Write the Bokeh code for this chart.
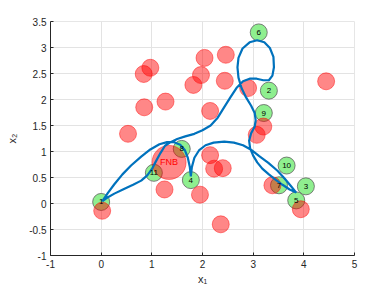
from bokeh.plotting import figure
from bokeh.models import FixedTicker
from bokeh.core.properties import value
from bokeh.embed import file_html
from bokeh.resources import INLINE

# ---- data ----
red_x = [0.84, 0.97, 0.85, 1.27, 1.82, 1.97, 2.04, 2.46, 2.44, 2.15, 2.90, 4.44,
         0.53, 3.20, 3.07, 1.25, 0.02, 1.95, 2.15, 2.23, 2.40, 2.36, 3.38, 3.94]
red_y = [2.49, 2.61, 1.85, 1.96, 2.28, 2.47, 2.80, 2.86, 2.36, 1.78, 2.22, 2.35,
         1.34, 1.48, 1.32, 0.27, -0.14, 0.17, 0.93, 0.67, 0.68, -0.40, 0.35, -0.11]

fnb_x = [1.34]
fnb_y = [0.79]
fnb_label = ["FNB"]

node_x = [0.00, 3.31, 4.04, 1.77, 3.85, 3.11, 3.51, 1.59, 3.21, 3.66, 1.04]
node_y = [0.03, 2.17, 0.33, 0.45, 0.06, 3.29, 0.35, 1.05, 1.74, 0.73, 0.59]
node_labels = ["1", "2", "3", "4", "5", "6", "7", "8", "9", "10", "11"]

path_x = [0.02, 0.13, 0.26, 0.42, 0.59, 0.79, 0.97, 1.15, 1.30, 1.44, 1.56, 1.65,
          1.71, 1.75, 1.77, 1.79, 1.84, 1.93, 2.06, 2.22, 2.43, 2.62, 2.80, 2.95,
          3.12, 3.30, 3.48, 3.62, 3.74, 3.85, 3.72, 3.58, 3.44, 3.31, 3.18, 3.08,
          3.00, 2.94, 2.92, 2.96, 3.03, 3.05, 3.03, 2.96, 2.86, 2.77, 2.71, 2.69,
          2.71, 2.79, 2.93, 3.08, 3.22, 3.33, 3.40, 3.41, 3.38, 3.31, 3.20, 3.07,
          2.93, 2.80, 2.67, 2.55, 2.42, 2.30, 2.16, 2.00, 1.84, 1.66, 1.50, 1.37,
          1.26, 1.17, 1.08, 1.00, 0.91, 0.79, 0.63, 0.45, 0.26, 0.10, 0.02]
path_y = [0.04, 0.20, 0.37, 0.56, 0.73, 0.90, 1.04, 1.14, 1.18, 1.18, 1.13, 1.03,
          0.88, 0.70, 0.52, 0.70, 0.88, 1.02, 1.12, 1.17, 1.19, 1.17, 1.12, 1.04,
          0.91, 0.78, 0.63, 0.48, 0.34, 0.21, 0.27, 0.36, 0.46, 0.56, 0.67, 0.79,
          0.92, 1.06, 1.21, 1.35, 1.48, 1.60, 1.74, 1.88, 2.04, 2.22, 2.42, 2.62,
          2.80, 2.98, 3.10, 3.14, 3.10, 2.99, 2.82, 2.62, 2.46, 2.37, 2.37, 2.40,
          2.40, 2.35, 2.22, 2.04, 1.84, 1.65, 1.50, 1.41, 1.34, 1.29, 1.24, 1.18,
          1.11, 0.97, 0.81, 0.66, 0.54, 0.44, 0.36, 0.28, 0.19, 0.10, 0.04]

x_ticks = [-1, 0, 1, 2, 3, 4, 5]
y_ticks = [-1, -0.5, 0, 0.5, 1, 1.5, 2, 2.5, 3, 3.5]
y_tick_labels = ["-1", "-0.5", "0", "0.5", "1", "1.5", "2", "2.5", "3", "3.5"]
x_tick_labels = ["-1", "0", "1", "2", "3", "4", "5"]

# ---- figure ----
FONT = "Liberation Sans"
p = figure(width=389, height=288, x_range=(-1, 5), y_range=(-1, 3.5),
           output_backend="svg", toolbar_location=None,
           min_border_left=50, min_border_right=35, min_border_top=21,
           min_border_bottom=33)
p.background_fill_color = "white"
p.outline_line_color = "#e6e6e6"

for ax, ticks, labels in ((p.xaxis[0], x_ticks, x_tick_labels),
                          (p.yaxis[0], y_ticks, y_tick_labels)):
    ax.ticker = FixedTicker(ticks=ticks)
    ax.major_label_overrides = {t: l for t, l in zip(ticks, labels)}
    ax.minor_tick_line_color = None
    ax.major_tick_in = 3
    ax.major_tick_out = 0
    ax.axis_line_color = "#262626"
    ax.major_tick_line_color = "#262626"
    ax.major_label_text_font = FONT
    ax.major_label_text_font_size = "10px"
    ax.major_label_text_color = "#262626"
    ax.axis_label_text_font = FONT
    ax.axis_label_text_font_size = "11px"
    ax.axis_label_text_font_style = "normal"
    ax.axis_label_text_color = "#262626"

p.xaxis.axis_label = "x₁"
p.yaxis.axis_label = "x₂"
p.xaxis.major_label_standoff = 4
p.xaxis.axis_label_standoff = 2
p.yaxis.major_label_standoff = 4
p.yaxis.axis_label_standoff = 8

p.grid.grid_line_color = "#e3e3e3"
p.grid.grid_line_width = 1

# green nodes
p.scatter(node_x, node_y, size=17, fill_color="#8FEF8F", line_color="#606060",
          line_width=0.8)
# red obstacles
p.scatter(red_x, red_y, size=17, fill_color="red", fill_alpha=0.47,
          line_color="red", line_alpha=0.45, line_width=1)
p.scatter(fnb_x, fnb_y, size=34, fill_color="red", fill_alpha=0.47,
          line_color="red", line_alpha=0.45, line_width=1)
# path
p.line(path_x, path_y, line_color="#0072BD", line_width=2.2)

# labels
p.text(node_x, node_y, text=node_labels, text_align="center",
       text_baseline="middle", text_font=value(FONT), text_font_size="8px",
       text_color="black")
p.text(fnb_x, fnb_y, text=fnb_label, text_align="center", text_baseline="middle",
       text_font=value(FONT), text_font_size="9px", text_color="red")

open("out.html", "w").write(file_html(p, INLINE))
